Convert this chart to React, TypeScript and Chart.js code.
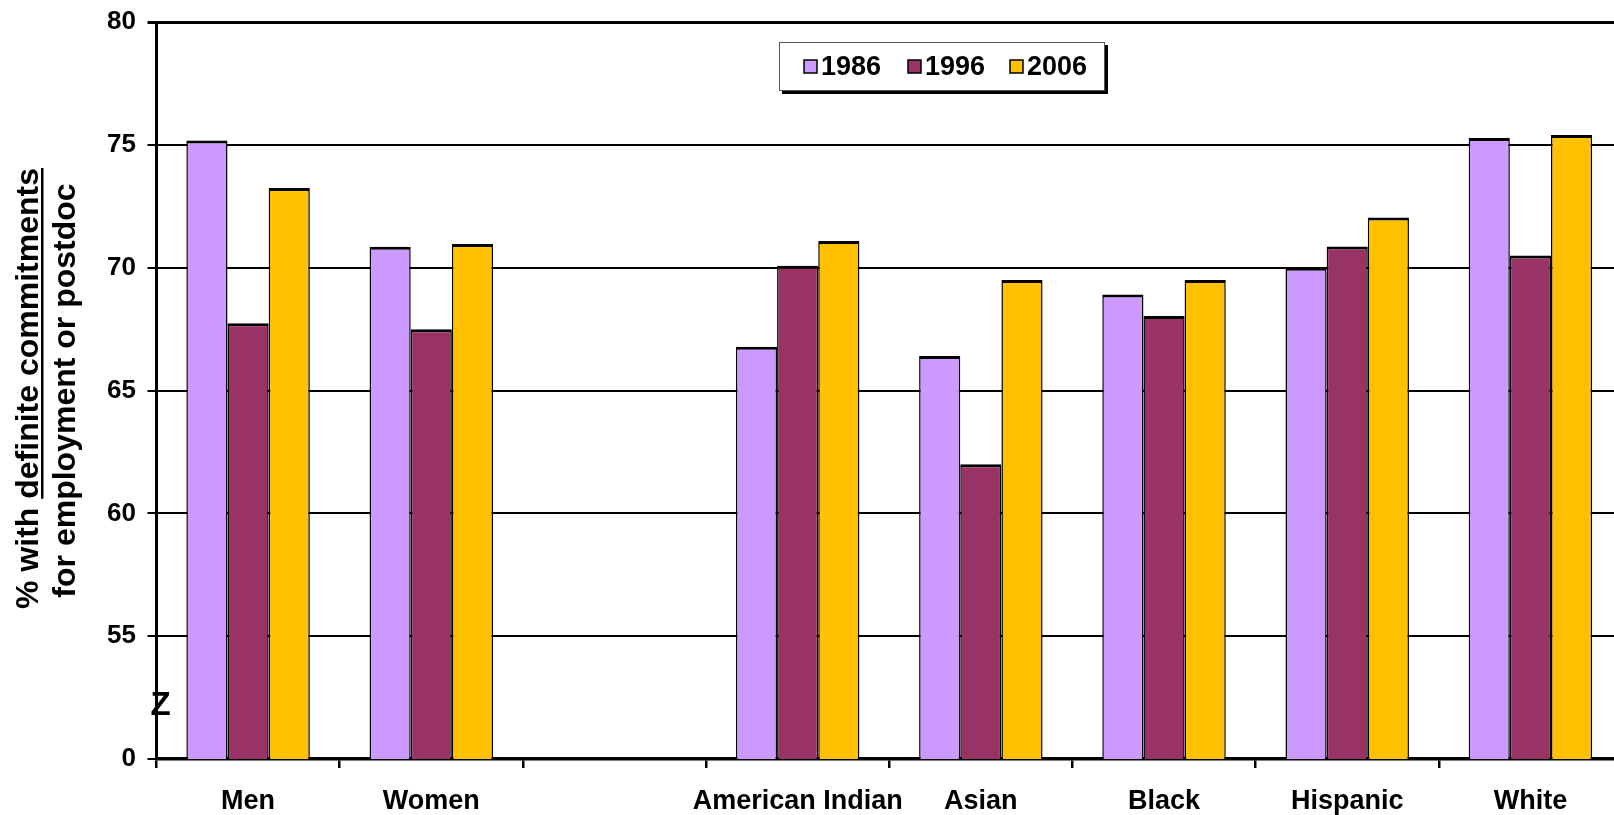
import React, { useEffect, useRef } from 'react';
import { Chart, registerables } from 'chart.js';

Chart.register(...registerables);

const categories = ['Men', 'Women', '', 'American Indian', 'Asian', 'Black', 'Hispanic', 'White'];
const series1986 = [75.18, 70.85, null, 66.78, 66.4, 68.91, 70.0, 75.28];
const series1996 = [67.74, 67.49, null, 70.08, 62.0, 68.03, 70.86, 70.5];
const series2006 = [73.24, 70.96, null, 71.09, 69.5, 69.5, 72.04, 75.4];
const seriesLabels = ['1986', '1996', '2006'];
const seriesColors = ['#CC99FF', '#993366', '#FFC000'];
const yTickValues = [50, 55, 60, 65, 70, 75, 80];
const yTickLabels = ['0', '55', '60', '65', '70', '75', '80'];
const yTitlePlain = '% with ';
const yTitleUnderlined = 'definite commitments';
const yTitleLine2 = 'for employment or postdoc';
const breakMark = 'Z';
const breakValue = 52.15;

const FONT = '"Liberation Sans", Arial, Helvetica, sans-serif';

const decorPlugin = {
  id: 'decor',
  afterDraw(chart: any) {
    const ctx = chart.ctx as CanvasRenderingContext2D;
    const area = chart.chartArea;
    const yScale = chart.scales.y;
    const midY = (area.top + area.bottom) / 2 - 2;

    ctx.save();
    // axis break mark
    ctx.fillStyle = '#000';
    ctx.font = `bold 33px ${FONT}`;
    ctx.textAlign = 'center';
    ctx.textBaseline = 'middle';
    ctx.fillText(breakMark, area.left + 4, yScale.getPixelForValue(breakValue));

    // y axis title (two rotated lines, part of first underlined)
    ctx.font = `bold 32px ${FONT}`;
    ctx.textBaseline = 'alphabetic';
    const full1 = yTitlePlain + yTitleUnderlined;
    const w1 = ctx.measureText(full1).width;
    const wPlain = ctx.measureText(yTitlePlain).width;
    ctx.save();
    ctx.translate(38, midY);
    ctx.rotate(-Math.PI / 2);
    ctx.textAlign = 'left';
    ctx.fillText(full1, -w1 / 2, 0);
    ctx.fillRect(-w1 / 2 + wPlain, 3, w1 - wPlain, 2.5);
    ctx.restore();
    ctx.save();
    ctx.translate(75, midY + 2);
    ctx.rotate(-Math.PI / 2);
    ctx.textAlign = 'center';
    ctx.fillText(yTitleLine2, 0, 0);
    ctx.restore();

    // legend box
    const lx = 779, ly = 42, lw = 326, lh = 49;
    ctx.fillStyle = '#000';
    ctx.fillRect(lx + 3, ly + 3, lw, lh);
    ctx.fillStyle = '#fff';
    ctx.fillRect(lx, ly, lw, lh);
    ctx.strokeStyle = '#555';
    ctx.lineWidth = 1;
    ctx.strokeRect(lx + 0.5, ly + 0.5, lw - 1, lh - 1);
    const itemX = [804, 908, 1010];
    ctx.font = `bold 27px ${FONT}`;
    ctx.textAlign = 'left';
    ctx.textBaseline = 'middle';
    seriesLabels.forEach((lab, i) => {
      const x = itemX[i];
      ctx.fillStyle = seriesColors[i];
      ctx.fillRect(x, 60, 13, 13);
      ctx.strokeStyle = '#000';
      ctx.lineWidth = 1.5;
      ctx.strokeRect(x, 60, 13, 13);
      ctx.fillStyle = '#000';
      ctx.fillText(lab, x + 17, 67.5);
    });
    ctx.restore();
  },
};

export default function App() {
  const ref = useRef<HTMLCanvasElement | null>(null);

  useEffect(() => {
    if (!ref.current) return;
    const allSeries = [series1986, series1996, series2006];
    const chart = new Chart(ref.current, {
      type: 'bar',
      data: {
        labels: categories,
        datasets: allSeries.map((d, i) => ({
          label: seriesLabels[i],
          data: d,
          backgroundColor: seriesColors[i],
          borderColor: '#000',
          borderWidth: { top: 3, left: 1.5, right: 1.5, bottom: 0 },
          borderSkipped: 'start',
          categoryPercentage: 0.674,
          barPercentage: 1,
        })),
      },
      options: {
        responsive: false,
        maintainAspectRatio: false,
        animation: false,
        devicePixelRatio: 1,
        layout: { padding: { top: 22, right: 18, left: 0, bottom: 0 } },
        plugins: {
          legend: { display: false },
          tooltip: { enabled: false },
        },
        scales: {
          x: {
            offset: true,
            z: 1,
            grid: {
              offset: true,
              drawOnChartArea: false,
              drawTicks: true,
              tickLength: 9,
              color: '#000',
              lineWidth: 2.5,
            },
            border: { display: true, color: '#000', width: 3.5 },
            ticks: {
              color: '#000',
              font: { family: FONT, size: 27, weight: 'bold' },
              padding: 17,
              maxRotation: 0,
              autoSkip: false,
            },
            afterFit: (s: any) => {
              s.height = 56;
            },
          },
          y: {
            min: 50,
            max: 80,
            ticks: {
              stepSize: 5,
              color: '#000',
              font: { family: FONT, size: 26, weight: 'bold' },
              padding: 11.5,
              callback: (v: any) => {
                const i = yTickValues.indexOf(Number(v));
                return i >= 0 ? yTickLabels[i] : '';
              },
            },
            grid: {
              color: '#000',
              lineWidth: (c: any) => (c.tick && c.tick.value === 80 ? 3 : 2),
              tickLength: 9,
            },
            border: { display: true, color: '#000', width: 3 },
            afterFit: (s: any) => {
              s.width = 156.5;
              s.paddingTop = 12;
              s.paddingBottom = 12;
            },
          },
        },
      },
      plugins: [decorPlugin],
    });
    return () => chart.destroy();
  }, []);

  return (
    <div
      style={{
        position: 'fixed',
        left: 0,
        top: 0,
        width: '1614px',
        height: '815px',
        overflow: 'hidden',
        background: '#fff',
      }}
    >
      <canvas ref={ref} width={1640} height={815} style={{ display: 'block', width: '1640px', height: '815px' }} />
    </div>
  );
}
